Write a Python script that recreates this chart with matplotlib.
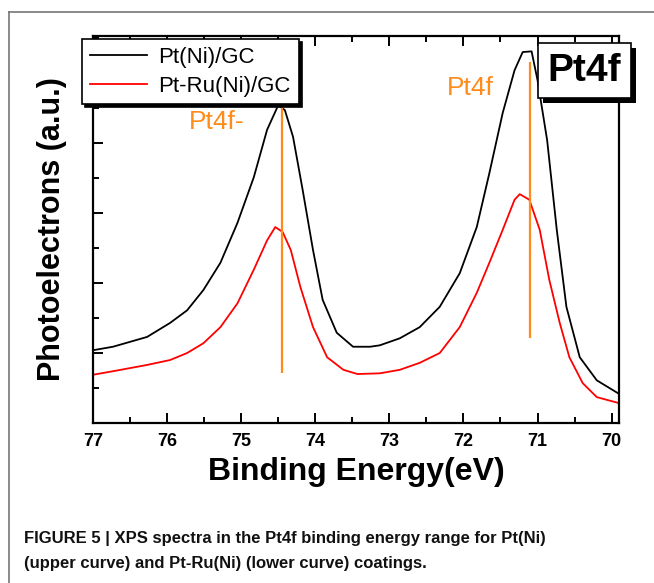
import matplotlib.pyplot as plt
from matplotlib.lines import Line2D
from matplotlib.patches import Rectangle
from matplotlib.ticker import MultipleLocator, NullFormatter

plt.rcParams['font.family'] = ['Liberation Sans', 'DejaVu Sans']

# black curve: Pt(Ni)/GC
energy_black = [77.0, 76.73, 76.27, 75.96, 75.73, 75.51, 75.28, 75.05, 74.83, 74.65,
                74.50, 74.41, 74.30, 74.17, 74.03, 73.90, 73.71, 73.49, 73.26, 73.13,
                72.86, 72.59, 72.32, 72.05, 71.82, 71.65, 71.47, 71.31, 71.20, 71.08,
                71.00, 70.87, 70.74, 70.61, 70.43, 70.20, 69.92]
counts_black = [1.04, 1.09, 1.23, 1.43, 1.61, 1.90, 2.29, 2.86, 3.51, 4.19,
                4.54, 4.47, 4.09, 3.33, 2.47, 1.76, 1.29, 1.09, 1.09, 1.11,
                1.21, 1.37, 1.66, 2.14, 2.80, 3.57, 4.43, 5.04, 5.30, 5.31,
                4.90, 4.04, 2.76, 1.66, 0.94, 0.61, 0.43]

# red curve: Pt-Ru(Ni)/GC
energy_red = [77.0, 76.73, 76.27, 75.96, 75.73, 75.51, 75.28, 75.05, 74.83, 74.65,
              74.54, 74.44, 74.33, 74.20, 74.03, 73.84, 73.62, 73.43, 73.13, 72.86,
              72.59, 72.32, 72.05, 71.82, 71.65, 71.47, 71.31, 71.24, 71.11, 70.97,
              70.84, 70.70, 70.57, 70.39, 70.20, 69.92]
counts_red = [0.69, 0.74, 0.83, 0.90, 1.00, 1.14, 1.37, 1.71, 2.19, 2.61,
              2.80, 2.73, 2.47, 1.94, 1.37, 0.94, 0.76, 0.70, 0.71, 0.76,
              0.86, 1.00, 1.37, 1.86, 2.29, 2.76, 3.19, 3.27, 3.19, 2.76,
              2.04, 1.43, 0.94, 0.57, 0.37, 0.29]

# orange marker lines (position, bottom, top) and their labels
peak_pos = [74.45, 71.10]
peak_low = [0.71, 1.21]
peak_high = [4.66, 5.16]
peak_labels = ["Pt4f-", "Pt4f"]
label_x = [75.33, 71.91]
label_y = [4.30, 4.78]

orange = '#ff8c1a'

fig = plt.figure(figsize=(6.54, 5.83), dpi=100)
ax = fig.add_axes([0.1422, 0.2744, 0.8043, 0.6639])

l1, = ax.plot(energy_black, counts_black, color='black', lw=1.3, label='Pt(Ni)/GC')
l2, = ax.plot(energy_red, counts_red, color='red', lw=1.3, label='Pt-Ru(Ni)/GC')
ax.vlines(peak_pos, peak_low, peak_high, color=orange, lw=1.6)
for x, y, t in zip(label_x, label_y, peak_labels):
    ax.text(x, y, t, color=orange, fontsize=19, ha='center', va='center')

ax.set_xlim(77, 69.9)
ax.set_ylim(0, 5.53)
ax.xaxis.set_major_locator(MultipleLocator(1))
ax.xaxis.set_minor_locator(MultipleLocator(0.5))
ax.yaxis.set_major_locator(MultipleLocator(1))
ax.yaxis.set_minor_locator(MultipleLocator(0.5))
ax.yaxis.set_major_formatter(NullFormatter())
ax.tick_params(which='both', direction='in', top=True, right=False, width=1.4)
ax.tick_params(which='major', length=7, labelsize=13, pad=7)
ax.tick_params(which='minor', length=4)
for lab in ax.get_xticklabels():
    lab.set_fontweight('bold')
for s in ax.spines.values():
    s.set_linewidth(1.6)

ax.set_xlabel('Binding Energy(eV)', fontsize=23, fontweight='bold', labelpad=5)
ax.set_ylabel('Photoelectrons (a.u.)', fontsize=22, fontweight='bold', labelpad=12)

leg = fig.legend(handles=[l1, l2], loc='center', bbox_to_anchor=(0.291, 0.877),
                 fontsize=16, frameon=True, fancybox=False, edgecolor='black',
                 framealpha=1, shadow={'color': 'black', 'alpha': 1},
                 handlelength=2.6, handletextpad=0.5, labelspacing=0.35,
                 borderpad=0.35)
leg.get_frame().set_linewidth(1.2)

# boxed "Pt4f" tag with a solid black drop shadow
tag = fig.text(0.894, 0.879, 'Pt4f', fontsize=28, fontweight='bold', ha='center', va='center',
               zorder=5, bbox=dict(boxstyle='square,pad=0.25', fc='white', ec='black', lw=1.2))
fig.canvas.draw()
bb = tag.get_bbox_patch().get_window_extent()
fig.add_artist(Rectangle((bb.x0 + 5, bb.y0 - 5), bb.width, bb.height, transform=None,
                         fc='black', ec='none', zorder=4))

# outer frame lines (top and left)
fig.add_artist(Line2D([9 / 654, 9 / 654], [0, 1 - 12 / 583], color='#777777', lw=1.2))
fig.add_artist(Line2D([9 / 654, 1], [1 - 12 / 583, 1 - 12 / 583], color='#777777', lw=1.2))

caption = ("FIGURE 5 | XPS spectra in the Pt4f binding energy range for Pt(Ni)\n"
           "(upper curve) and Pt-Ru(Ni) (lower curve) coatings.")
fig.text(24 / 654, 1 - 531 / 583, caption, fontsize=12, fontweight='bold',
         family=['Liberation Sans Narrow', 'Liberation Sans'], va='top', ha='left',
         linespacing=1.8, color='#111111')

fig.savefig('out.png', dpi=100)
